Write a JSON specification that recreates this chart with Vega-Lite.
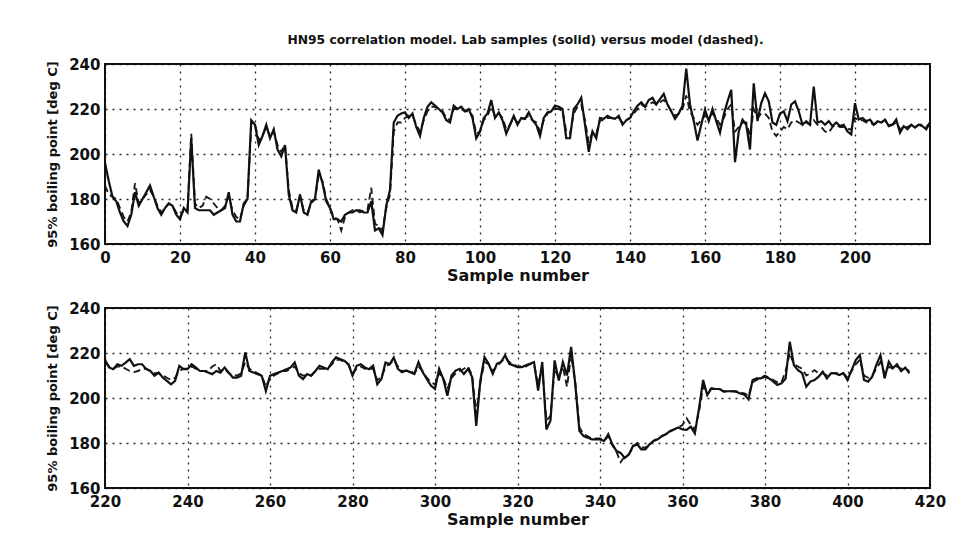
{
  "$schema": "https://vega.github.io/schema/vega-lite/v6.json",
  "background": "white",
  "padding": {"left": 45, "top": 32, "right": 30, "bottom": 10},
  "spacing": 16,
  "config": {
    "view": {"stroke": "#111", "strokeWidth": 2},
    "axis": {
      "labelFont": "DejaVu Sans", "labelFontWeight": "bold", "labelFontSize": 15, "labelColor": "#111",
      "titleFont": "DejaVu Sans", "titleFontWeight": "bold", "titleColor": "#111",
      "ticks": false, "domain": false, "grid": true, "gridColor": "#111", "gridDash": [2, 5], "gridWidth": 1.3, "gridOpacity": 0.9,
      "labelOverlap": false, "labelFlush": false, "labelBound": false
    },
    "title": {"font": "DejaVu Sans", "fontWeight": "bold", "fontSize": 12.3, "color": "#111"}
  },
  "datasets": {
    "top": [
{"x":0,"lab":196,"model":186},{"x":1,"lab":188,"model":182},{"x":2,"lab":181,"model":181},{"x":3,"lab":179,"model":180},{"x":4,"lab":174,"model":176},{"x":5,"lab":170,"model":172},{"x":6,"lab":168,"model":170},{"x":7,"lab":173,"model":174},{"x":8,"lab":183,"model":187},{"x":9,"lab":177,"model":178},
{"x":10,"lab":180,"model":180},{"x":11,"lab":183,"model":182},{"x":12,"lab":186,"model":184},{"x":13,"lab":181,"model":181},{"x":14,"lab":176,"model":177},{"x":15,"lab":173,"model":174},{"x":16,"lab":176,"model":176},{"x":17,"lab":178,"model":178},{"x":18,"lab":177,"model":177},{"x":19,"lab":173,"model":174},
{"x":20,"lab":171,"model":172},{"x":21,"lab":176,"model":175},{"x":22,"lab":174,"model":175},{"x":23,"lab":207,"model":209},{"x":24,"lab":176,"model":178},{"x":25,"lab":175,"model":176},{"x":26,"lab":175,"model":177},{"x":27,"lab":175,"model":181},{"x":28,"lab":175,"model":180},{"x":29,"lab":173,"model":178},
{"x":30,"lab":174,"model":176},{"x":31,"lab":175,"model":175},{"x":32,"lab":176,"model":177},{"x":33,"lab":183,"model":181},{"x":34,"lab":173,"model":175},{"x":35,"lab":170,"model":172},{"x":36,"lab":170,"model":171},{"x":37,"lab":178,"model":177},{"x":38,"lab":180,"model":180},{"x":39,"lab":215,"model":213},
{"x":40,"lab":213,"model":213},{"x":41,"lab":204,"model":206},{"x":42,"lab":208,"model":208},{"x":43,"lab":213,"model":212},{"x":44,"lab":207,"model":208},{"x":45,"lab":211,"model":210},{"x":46,"lab":202,"model":204},{"x":47,"lab":199,"model":201},{"x":48,"lab":204,"model":204},{"x":49,"lab":182,"model":184},
{"x":50,"lab":175,"model":176},{"x":51,"lab":174,"model":175},{"x":52,"lab":182,"model":181},{"x":53,"lab":174,"model":175},{"x":54,"lab":173,"model":174},{"x":55,"lab":179,"model":178},{"x":56,"lab":180,"model":180},{"x":57,"lab":193,"model":191},{"x":58,"lab":187,"model":188},{"x":59,"lab":179,"model":180},
{"x":60,"lab":176,"model":176},{"x":61,"lab":171,"model":172},{"x":62,"lab":171,"model":171},{"x":63,"lab":170,"model":166},{"x":64,"lab":173,"model":172},{"x":65,"lab":174,"model":174},{"x":66,"lab":174,"model":175},{"x":67,"lab":175,"model":175},{"x":68,"lab":175,"model":174},{"x":69,"lab":174,"model":175},
{"x":70,"lab":174,"model":175},{"x":71,"lab":179,"model":185},{"x":72,"lab":166,"model":169},{"x":73,"lab":167,"model":168},{"x":74,"lab":164,"model":166},{"x":75,"lab":177,"model":176},{"x":76,"lab":184,"model":182},{"x":77,"lab":214,"model":210},{"x":78,"lab":217,"model":214},{"x":79,"lab":218,"model":214},
{"x":80,"lab":218.5,"model":216},{"x":81,"lab":216,"model":217},{"x":82,"lab":218,"model":217},{"x":83,"lab":212,"model":213},{"x":84,"lab":208,"model":210},{"x":85,"lab":216,"model":215},{"x":86,"lab":221,"model":219},{"x":87,"lab":223,"model":221},{"x":88,"lab":221.5,"model":221},{"x":89,"lab":220,"model":220},
{"x":90,"lab":218.5,"model":219},{"x":91,"lab":215,"model":216},{"x":92,"lab":214,"model":215},{"x":93,"lab":221.5,"model":220},{"x":94,"lab":220,"model":220},{"x":95,"lab":221,"model":220},{"x":96,"lab":219,"model":219},{"x":97,"lab":220,"model":219},{"x":98,"lab":216,"model":217},{"x":99,"lab":207,"model":209},
{"x":100,"lab":210,"model":210},{"x":101,"lab":216,"model":215},{"x":102,"lab":218,"model":217},{"x":103,"lab":224,"model":221},{"x":104,"lab":216,"model":217},{"x":105,"lab":218.5,"model":218},{"x":106,"lab":215,"model":216},{"x":107,"lab":209,"model":211},{"x":108,"lab":213,"model":213},{"x":109,"lab":217,"model":216},
{"x":110,"lab":213,"model":214},{"x":111,"lab":216,"model":215},{"x":112,"lab":215.6,"model":216},{"x":113,"lab":218.5,"model":217},{"x":114,"lab":215,"model":215},{"x":115,"lab":213,"model":214},{"x":116,"lab":208,"model":210},{"x":117,"lab":216,"model":215},{"x":118,"lab":218.5,"model":218},{"x":119,"lab":219,"model":219},
{"x":120,"lab":221.5,"model":220},{"x":121,"lab":221,"model":220},{"x":122,"lab":220,"model":219},{"x":123,"lab":207,"model":210},{"x":124,"lab":207,"model":209},{"x":125,"lab":220,"model":218},{"x":126,"lab":222,"model":221},{"x":127,"lab":225,"model":222},{"x":128,"lab":213,"model":215},{"x":129,"lab":201,"model":205},
{"x":130,"lab":210,"model":210},{"x":131,"lab":207,"model":209},{"x":132,"lab":216,"model":215},{"x":133,"lab":215.6,"model":215},{"x":134,"lab":217,"model":216},{"x":135,"lab":216,"model":216},{"x":136,"lab":215.6,"model":216},{"x":137,"lab":217,"model":216},{"x":138,"lab":213,"model":214},{"x":139,"lab":215,"model":215},
{"x":140,"lab":216,"model":216},{"x":141,"lab":219,"model":218},{"x":142,"lab":221.5,"model":220},{"x":143,"lab":223,"model":222},{"x":144,"lab":221,"model":221},{"x":145,"lab":224,"model":222},{"x":146,"lab":225,"model":223},{"x":147,"lab":222,"model":222},{"x":148,"lab":224.4,"model":223},{"x":149,"lab":226.7,"model":224},
{"x":150,"lab":222,"model":222},{"x":151,"lab":219,"model":219},{"x":152,"lab":215.6,"model":217},{"x":153,"lab":218,"model":218},{"x":154,"lab":221.5,"model":220},{"x":155,"lab":238,"model":226},{"x":156,"lab":222,"model":219},{"x":157,"lab":214.6,"model":216},{"x":158,"lab":206,"model":213},{"x":159,"lab":213,"model":215},
{"x":160,"lab":219.7,"model":217},{"x":161,"lab":214.6,"model":216},{"x":162,"lab":220,"model":218},{"x":163,"lab":214.6,"model":216},{"x":164,"lab":209.5,"model":213},{"x":165,"lab":217.5,"model":216},{"x":166,"lab":223.4,"model":220},{"x":167,"lab":228.5,"model":222},{"x":168,"lab":196.4,"model":210},{"x":169,"lab":210,"model":212},
{"x":170,"lab":215.3,"model":214},{"x":171,"lab":213,"model":214},{"x":172,"lab":202,"model":208},{"x":173,"lab":231.4,"model":220},{"x":174,"lab":214.6,"model":216},{"x":175,"lab":222.6,"model":218},{"x":176,"lab":227,"model":218},{"x":177,"lab":223.4,"model":216},{"x":178,"lab":214,"model":210},{"x":179,"lab":213,"model":208},
{"x":180,"lab":218,"model":210},{"x":181,"lab":219,"model":212},{"x":182,"lab":214.6,"model":211},{"x":183,"lab":222,"model":214},{"x":184,"lab":223.4,"model":215},{"x":185,"lab":219,"model":214},{"x":186,"lab":213,"model":213},{"x":187,"lab":214.6,"model":214},{"x":188,"lab":213,"model":213},{"x":189,"lab":230,"model":215},
{"x":190,"lab":214,"model":213},{"x":191,"lab":214.6,"model":212},{"x":192,"lab":213,"model":210},{"x":193,"lab":214.6,"model":209.5},{"x":194,"lab":212.4,"model":212},{"x":195,"lab":214,"model":213},{"x":196,"lab":212.4,"model":212},{"x":197,"lab":213,"model":212},{"x":198,"lab":210,"model":211},{"x":199,"lab":208.7,"model":211},
{"x":200,"lab":222.6,"model":216},{"x":201,"lab":215.3,"model":215},{"x":202,"lab":216,"model":215},{"x":203,"lab":214.6,"model":214},{"x":204,"lab":215.3,"model":214},{"x":205,"lab":213,"model":213},{"x":206,"lab":214.6,"model":214},{"x":207,"lab":214,"model":214},{"x":208,"lab":215.3,"model":215},{"x":209,"lab":212.4,"model":213},
{"x":210,"lab":213,"model":213},{"x":211,"lab":215.3,"model":214},{"x":212,"lab":209.5,"model":211},{"x":213,"lab":212.4,"model":212},{"x":214,"lab":211,"model":212},{"x":215,"lab":213,"model":213},{"x":216,"lab":211.7,"model":212},{"x":217,"lab":213,"model":213},{"x":218,"lab":212.4,"model":213},{"x":219,"lab":211,"model":212},
{"x":220,"lab":214,"model":214}
    ],
    "bottom": [
{"x":220,"lab":217,"model":216},{"x":221,"lab":213.6,"model":214},{"x":222,"lab":212.8,"model":213},{"x":223,"lab":215,"model":214},{"x":224,"lab":214.3,"model":214},{"x":225,"lab":215.7,"model":213},{"x":226,"lab":217.3,"model":212},{"x":227,"lab":214.3,"model":211.5},{"x":228,"lab":215,"model":212},{"x":229,"lab":215,"model":213},
{"x":230,"lab":212.8,"model":213},{"x":231,"lab":212,"model":212},{"x":232,"lab":209.9,"model":211},{"x":233,"lab":211.3,"model":211},{"x":234,"lab":209.1,"model":210},{"x":235,"lab":207.6,"model":209},{"x":236,"lab":206.1,"model":208},{"x":237,"lab":207.6,"model":209},{"x":238,"lab":214.3,"model":212},{"x":239,"lab":212.8,"model":213},
{"x":240,"lab":212.8,"model":213},{"x":241,"lab":215,"model":214},{"x":242,"lab":213.6,"model":213},{"x":243,"lab":212,"model":212},{"x":244,"lab":212,"model":212},{"x":245,"lab":211.3,"model":212},{"x":246,"lab":210.6,"model":214},{"x":247,"lab":212,"model":215},{"x":248,"lab":211.3,"model":212},{"x":249,"lab":213.6,"model":213},
{"x":250,"lab":211.3,"model":211},{"x":251,"lab":209.1,"model":210},{"x":252,"lab":209.1,"model":210},{"x":253,"lab":209.9,"model":211},{"x":254,"lab":220.3,"model":216},{"x":255,"lab":212,"model":213},{"x":256,"lab":211.3,"model":212},{"x":257,"lab":210.6,"model":211},{"x":258,"lab":209.9,"model":210},{"x":259,"lab":203.1,"model":205},
{"x":260,"lab":209.9,"model":209},{"x":261,"lab":210.6,"model":210},{"x":262,"lab":211.3,"model":211},{"x":263,"lab":212,"model":212},{"x":264,"lab":212.8,"model":212},{"x":265,"lab":213.6,"model":213},{"x":266,"lab":215.8,"model":214},{"x":267,"lab":209.9,"model":211},{"x":268,"lab":208.4,"model":210},{"x":269,"lab":210.6,"model":210},
{"x":270,"lab":209.9,"model":210},{"x":271,"lab":212,"model":212},{"x":272,"lab":214.3,"model":213},{"x":273,"lab":213.6,"model":213},{"x":274,"lab":212.8,"model":213},{"x":275,"lab":215.8,"model":215},{"x":276,"lab":218.1,"model":217},{"x":277,"lab":217.3,"model":217},{"x":278,"lab":216.6,"model":216},{"x":279,"lab":215,"model":215},
{"x":280,"lab":209.9,"model":211},{"x":281,"lab":214.3,"model":213},{"x":282,"lab":215,"model":214},{"x":283,"lab":213.6,"model":213},{"x":284,"lab":212.8,"model":213},{"x":285,"lab":214.3,"model":213},{"x":286,"lab":206.1,"model":208},{"x":287,"lab":208.4,"model":209},{"x":288,"lab":215.8,"model":214},{"x":289,"lab":215,"model":215},
{"x":290,"lab":218,"model":217},{"x":291,"lab":213,"model":214},{"x":292,"lab":211.5,"model":212},{"x":293,"lab":212.2,"model":212},{"x":294,"lab":211.5,"model":212},{"x":295,"lab":210.7,"model":211},{"x":296,"lab":216,"model":214},{"x":297,"lab":211.5,"model":212},{"x":298,"lab":208.5,"model":209},{"x":299,"lab":205.5,"model":207},
{"x":300,"lab":204,"model":206},{"x":301,"lab":213,"model":211},{"x":302,"lab":208.5,"model":209},{"x":303,"lab":201,"model":204},{"x":304,"lab":210,"model":209},{"x":305,"lab":212.2,"model":211},{"x":306,"lab":213,"model":212},{"x":307,"lab":210.7,"model":213},{"x":308,"lab":213,"model":214},{"x":309,"lab":209.3,"model":210},
{"x":310,"lab":187.6,"model":193},{"x":311,"lab":207.8,"model":207},{"x":312,"lab":218.2,"model":216},{"x":313,"lab":215.2,"model":215},{"x":314,"lab":210.7,"model":212},{"x":315,"lab":215.2,"model":214},{"x":316,"lab":216,"model":216},{"x":317,"lab":219,"model":218},{"x":318,"lab":215.2,"model":216},{"x":319,"lab":214.5,"model":215},
{"x":320,"lab":213.7,"model":214},{"x":321,"lab":213.7,"model":214},{"x":322,"lab":214.5,"model":214},{"x":323,"lab":215.2,"model":215},{"x":324,"lab":216,"model":215},{"x":325,"lab":203.3,"model":206},{"x":326,"lab":216,"model":213},{"x":327,"lab":186,"model":190},{"x":328,"lab":190,"model":192},{"x":329,"lab":216.7,"model":213},
{"x":330,"lab":207.8,"model":209},{"x":331,"lab":216,"model":214},{"x":332,"lab":210,"model":205},{"x":333,"lab":222.7,"model":219},{"x":334,"lab":206.3,"model":207},{"x":335,"lab":185.4,"model":187},{"x":336,"lab":183.1,"model":184},{"x":337,"lab":182.4,"model":183},{"x":338,"lab":181.6,"model":182},{"x":339,"lab":181.6,"model":182},
{"x":340,"lab":181.6,"model":182},{"x":341,"lab":180.9,"model":181},{"x":342,"lab":183.9,"model":183},{"x":343,"lab":179.4,"model":179},{"x":344,"lab":176.4,"model":176},{"x":345,"lab":175.6,"model":171.5},{"x":346,"lab":173.4,"model":174},{"x":347,"lab":174.9,"model":175},{"x":348,"lab":178.7,"model":178},{"x":349,"lab":179.4,"model":180},
{"x":350,"lab":177.2,"model":178},{"x":351,"lab":177.2,"model":178},{"x":352,"lab":179.4,"model":179},{"x":353,"lab":180.9,"model":181},{"x":354,"lab":181.6,"model":182},{"x":355,"lab":183.1,"model":183},{"x":356,"lab":183.9,"model":184},{"x":357,"lab":185.4,"model":185},{"x":358,"lab":186.1,"model":186},{"x":359,"lab":186.9,"model":187},
{"x":360,"lab":186,"model":188},{"x":361,"lab":185.8,"model":191},{"x":362,"lab":187.3,"model":188},{"x":363,"lab":184.3,"model":186},{"x":364,"lab":195.4,"model":194},{"x":365,"lab":208,"model":205},{"x":366,"lab":201.3,"model":203},{"x":367,"lab":204.3,"model":204},{"x":368,"lab":204,"model":204},{"x":369,"lab":204,"model":204},
{"x":370,"lab":202.8,"model":203},{"x":371,"lab":203,"model":203},{"x":372,"lab":203,"model":203},{"x":373,"lab":202.8,"model":203},{"x":374,"lab":202,"model":202.5},{"x":375,"lab":201.5,"model":202},{"x":376,"lab":199.4,"model":201},{"x":377,"lab":208,"model":207},{"x":378,"lab":208.7,"model":208},{"x":379,"lab":208.7,"model":209},
{"x":380,"lab":209.5,"model":210},{"x":381,"lab":208.7,"model":209},{"x":382,"lab":207.3,"model":208},{"x":383,"lab":205.8,"model":207},{"x":384,"lab":206.5,"model":207},{"x":385,"lab":208.7,"model":212},{"x":386,"lab":225,"model":220},{"x":387,"lab":214.7,"model":215},{"x":388,"lab":212.4,"model":214},{"x":389,"lab":211,"model":213},
{"x":390,"lab":205,"model":210},{"x":391,"lab":207.3,"model":211},{"x":392,"lab":208,"model":212.4},{"x":393,"lab":209.5,"model":211},{"x":394,"lab":211.7,"model":211},{"x":395,"lab":208.7,"model":210},{"x":396,"lab":211,"model":211},{"x":397,"lab":211,"model":211},{"x":398,"lab":210.2,"model":211},{"x":399,"lab":211,"model":211},
{"x":400,"lab":208,"model":209},{"x":401,"lab":212.4,"model":212},{"x":402,"lab":216.9,"model":215},{"x":403,"lab":219.1,"model":217},{"x":404,"lab":208,"model":210},{"x":405,"lab":207.3,"model":209},{"x":406,"lab":209.5,"model":210},{"x":407,"lab":214.7,"model":213},{"x":408,"lab":219.1,"model":216},{"x":409,"lab":208.7,"model":211},
{"x":410,"lab":216.1,"model":214},{"x":411,"lab":213.2,"model":213},{"x":412,"lab":215,"model":214},{"x":413,"lab":212,"model":213},{"x":414,"lab":213.5,"model":213},{"x":415,"lab":211,"model":212}
    ]
  },
  "vconcat": [
    {
      "width": 825, "height": 180,
      "title": {"text": "HN95 correlation model. Lab samples (solid) versus model (dashed).", "anchor": "middle", "offset": 11, "dx": 8},
      "data": {"name": "top"},
      "layer": [
        {
          "mark": {"type": "line", "strokeDash": [7, 4], "strokeWidth": 1.9, "color": "#1a1a1a"},
          "encoding": {
            "x": {"field": "x", "type": "quantitative", "scale": {"domain": [0, 220], "nice": false},
                  "axis": {"title": "Sample number", "titleFontSize": 16, "values": [0, 20, 40, 60, 80, 100, 120, 140, 160, 180, 200], "labelPadding": 6, "titlePadding": 2}},
            "y": {"field": "model", "type": "quantitative", "scale": {"domain": [160, 240], "nice": false, "zero": false},
                  "axis": {"title": "95% boiling point [deg C]", "titleFontSize": 13, "values": [160, 180, 200, 220, 240], "labelPadding": 5, "titlePadding": 9}}
          }
        },
        {
          "mark": {"type": "line", "strokeWidth": 2.2, "color": "#111"},
          "encoding": {
            "x": {"field": "x", "type": "quantitative"},
            "y": {"field": "lab", "type": "quantitative"}
          }
        }
      ]
    },
    {
      "width": 825, "height": 180,
      "data": {"name": "bottom"},
      "layer": [
        {
          "mark": {"type": "line", "strokeDash": [7, 4], "strokeWidth": 1.9, "color": "#1a1a1a"},
          "encoding": {
            "x": {"field": "x", "type": "quantitative", "scale": {"domain": [220, 420], "nice": false},
                  "axis": {"title": "Sample number", "titleFontSize": 16, "values": [220, 240, 260, 280, 300, 320, 340, 360, 380, 400, 420], "labelPadding": 6, "titlePadding": 2}},
            "y": {"field": "model", "type": "quantitative", "scale": {"domain": [160, 240], "nice": false, "zero": false},
                  "axis": {"title": "95% boiling point [deg C]", "titleFontSize": 13, "values": [160, 180, 200, 220, 240], "labelPadding": 5, "titlePadding": 9}}
          }
        },
        {
          "mark": {"type": "line", "strokeWidth": 2.2, "color": "#111"},
          "encoding": {
            "x": {"field": "x", "type": "quantitative"},
            "y": {"field": "lab", "type": "quantitative"}
          }
        }
      ]
    }
  ]
}
